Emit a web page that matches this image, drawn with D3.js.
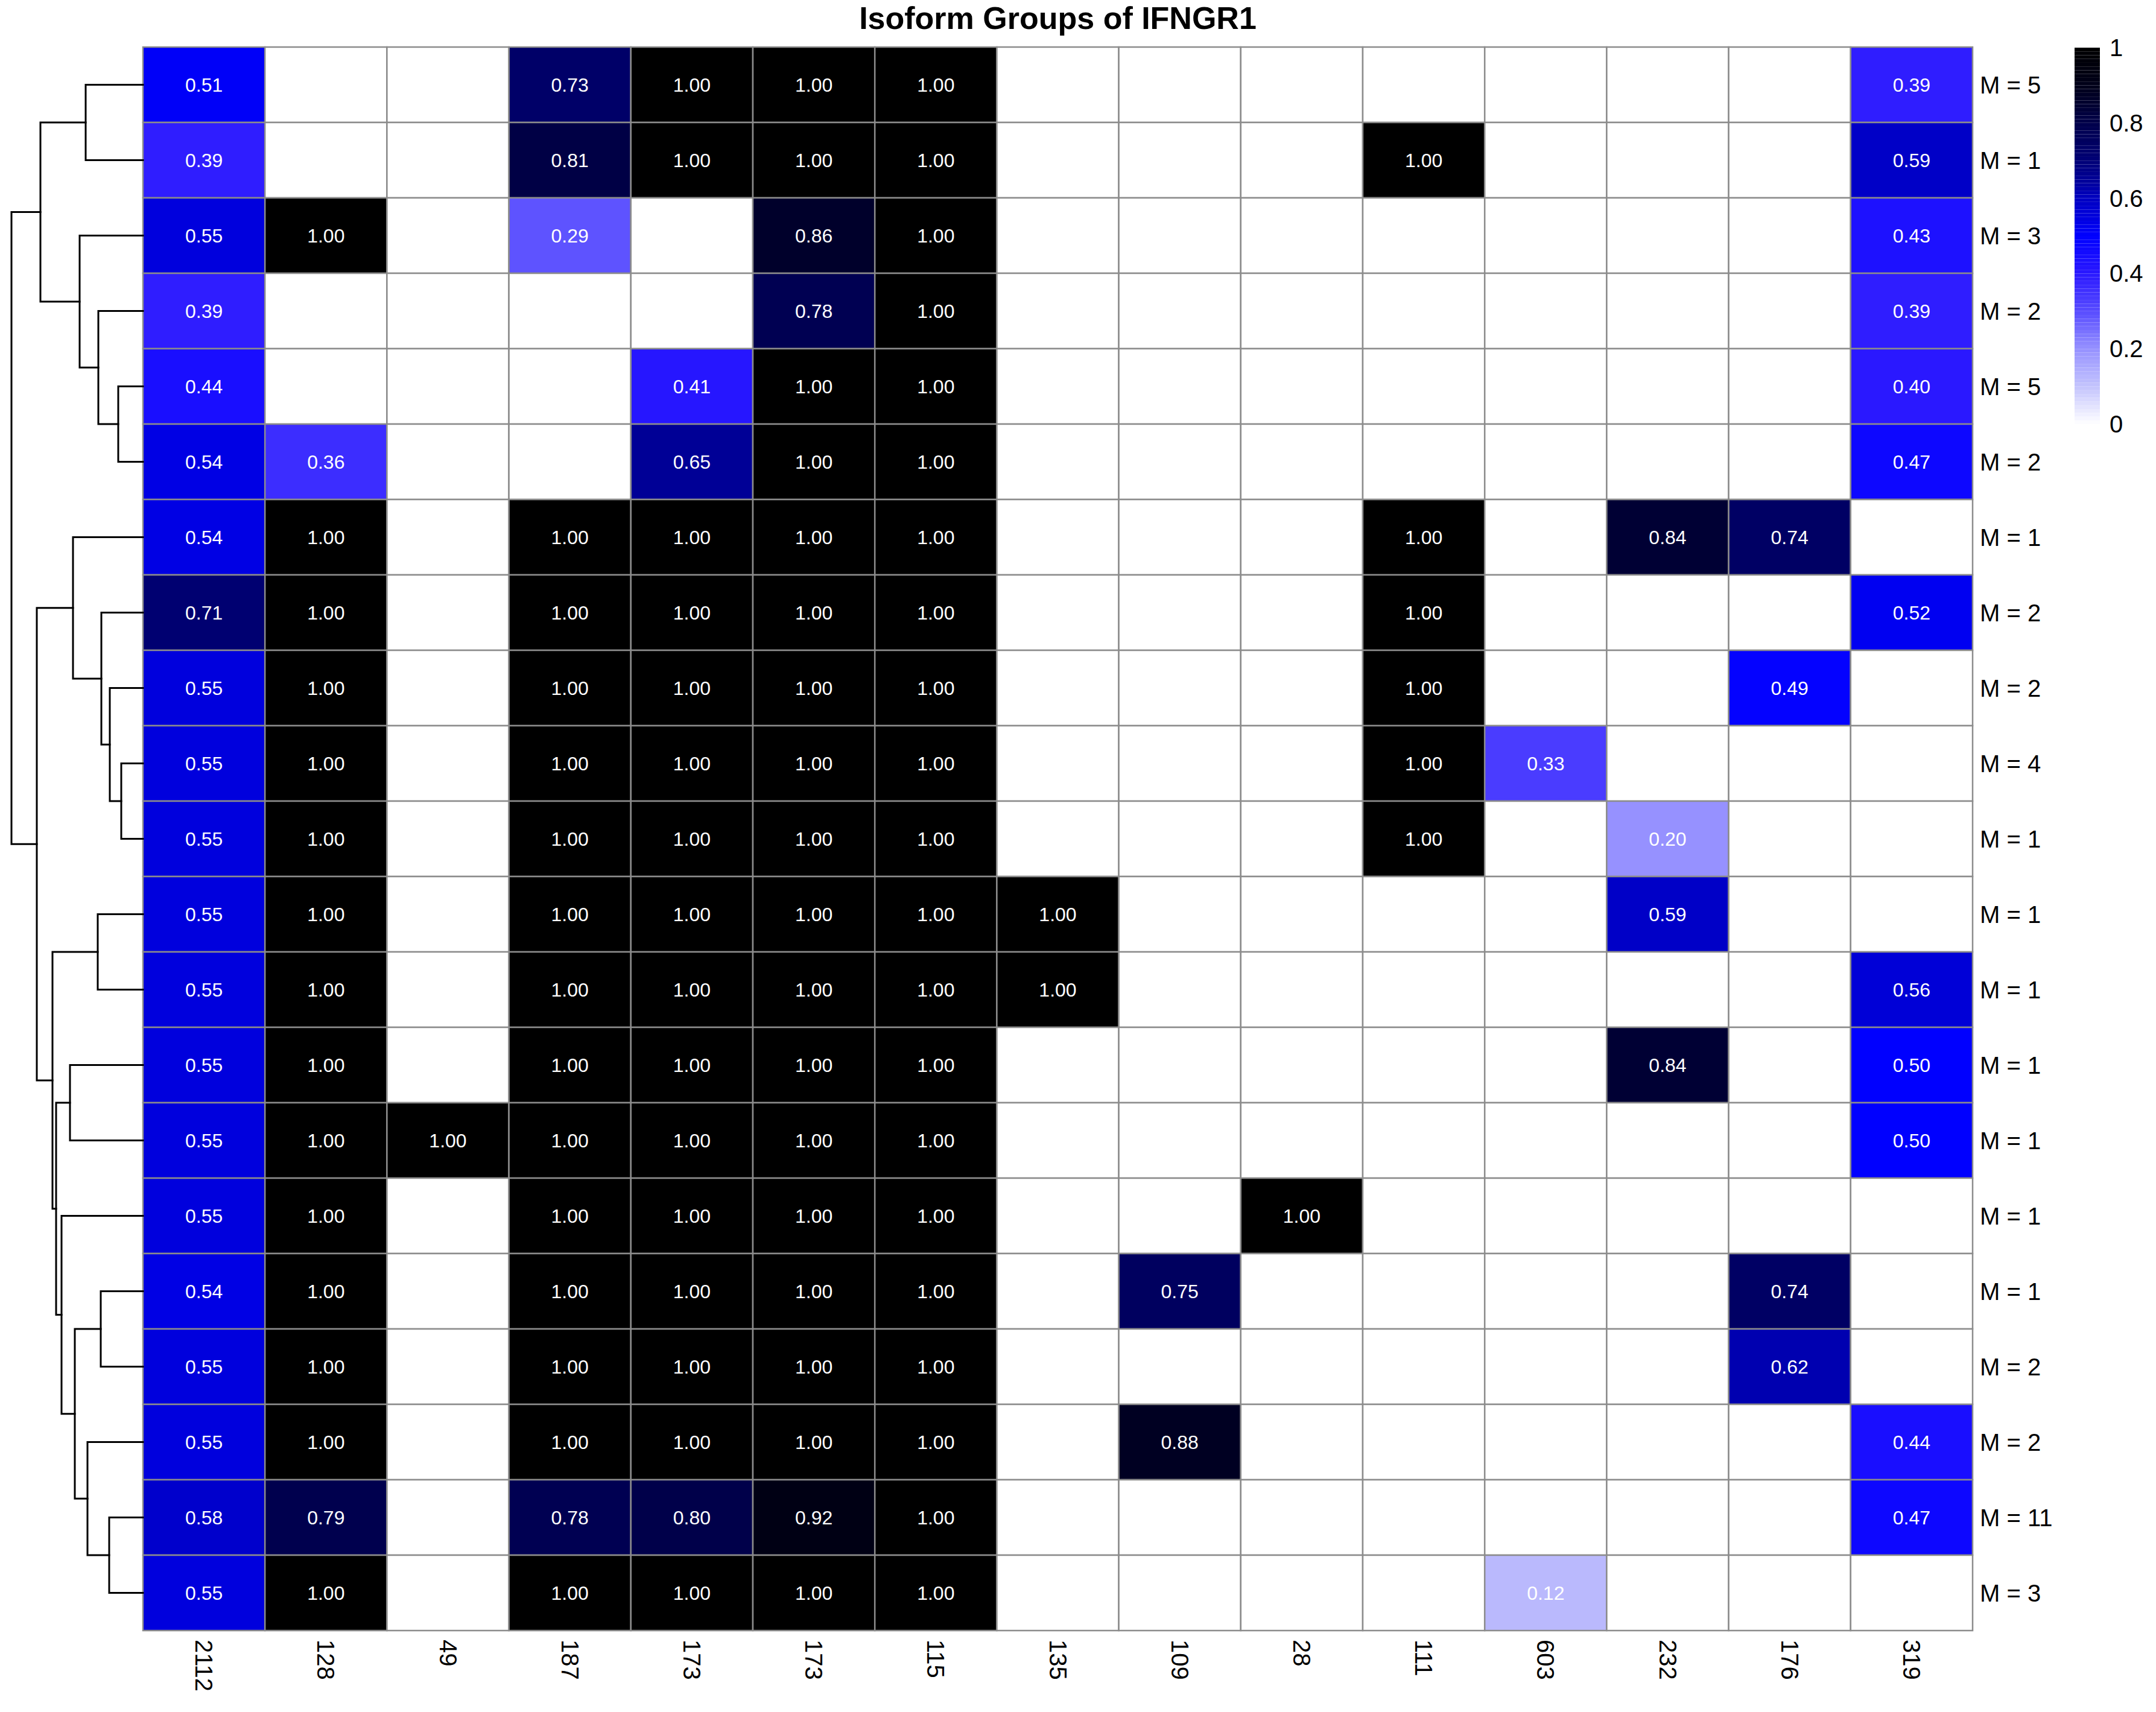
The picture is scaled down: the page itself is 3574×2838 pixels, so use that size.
<!DOCTYPE html>
<html>
<head>
<meta charset="utf-8">
<script src="https://cdn.jsdelivr.net/npm/d3@7"></script>
<style>
  html, body { margin: 0; padding: 0; background: #ffffff; }
  svg { display: block; }
</style>
</head>
<body>
<svg id="chart" width="3574" height="2838"></svg>
<script>
// ---------------- data ----------------
const chartTitle = "Isoform Groups of IFNGR1";
const colLabels = ["2112","128","49","187","173","173","115","135","109","28","111","603","232","176","319"];
const rowLabels = ["M = 5","M = 1","M = 3","M = 2","M = 5","M = 2","M = 1","M = 2","M = 2","M = 4",
                   "M = 1","M = 1","M = 1","M = 1","M = 1","M = 1","M = 1","M = 2","M = 2","M = 11","M = 3"];
// rows top to bottom, columns left to right (0 = empty cell)
const cellValues = [
  [0.51,0,0,0.73,1,1,1,0,0,0,0,0,0,0,0.39],
  [0.39,0,0,0.81,1,1,1,0,0,0,1,0,0,0,0.59],
  [0.55,1,0,0.29,0,0.86,1,0,0,0,0,0,0,0,0.43],
  [0.39,0,0,0,0,0.78,1,0,0,0,0,0,0,0,0.39],
  [0.44,0,0,0,0.41,1,1,0,0,0,0,0,0,0,0.40],
  [0.54,0.36,0,0,0.65,1,1,0,0,0,0,0,0,0,0.47],
  [0.54,1,0,1,1,1,1,0,0,0,1,0,0.84,0.74,0],
  [0.71,1,0,1,1,1,1,0,0,0,1,0,0,0,0.52],
  [0.55,1,0,1,1,1,1,0,0,0,1,0,0,0.49,0],
  [0.55,1,0,1,1,1,1,0,0,0,1,0.33,0,0,0],
  [0.55,1,0,1,1,1,1,0,0,0,1,0,0.20,0,0],
  [0.55,1,0,1,1,1,1,1,0,0,0,0,0.59,0,0],
  [0.55,1,0,1,1,1,1,1,0,0,0,0,0,0,0.56],
  [0.55,1,0,1,1,1,1,0,0,0,0,0,0.84,0,0.50],
  [0.55,1,1,1,1,1,1,0,0,0,0,0,0,0,0.50],
  [0.55,1,0,1,1,1,1,0,0,1,0,0,0,0,0],
  [0.54,1,0,1,1,1,1,0,0.75,0,0,0,0,0.74,0],
  [0.55,1,0,1,1,1,1,0,0,0,0,0,0,0.62,0],
  [0.55,1,0,1,1,1,1,0,0.88,0,0,0,0,0,0.44],
  [0.58,0.79,0,0.78,0.80,0.92,1,0,0,0,0,0,0,0,0.47],
  [0.55,1,0,1,1,1,1,0,0,0,0,0.12,0,0,0]
];
const legendTicks = [0, 0.2, 0.4, 0.6, 0.8, 1];
const legendTickLabels = ["0","0.2","0.4","0.6","0.8","1"];
// colour ramp stops (white -> blue -> black)
const colorStops = [0, 0.1, 0.2, 0.3, 0.4, 0.5, 0.55, 0.6, 0.65, 0.7, 0.75, 0.8, 0.85, 0.9, 1];
const colorRange = ["#ffffff","#c3c3fd","#9691ff","#584cff","#2a18ff","#0000ff","#0000dd","#0000c1",
                    "#000096","#000076","#00005f","#00004a","#00002f","#000019","#000000"];
// row dendrogram: merge heights (h) and leaves (row index)
const rowDendrogram = {h:2.18, children:[
  {h:1.70, children:[
    {h:0.95, children:[{leaf:0},{leaf:1}]},
    {h:1.05, children:[
      {leaf:2},
      {h:0.74, children:[{leaf:3},{h:0.41, children:[{leaf:4},{leaf:5}]}]}
    ]}
  ]},
  {h:1.76, children:[
    {h:1.16, children:[
      {leaf:6},
      {h:0.69, children:[
        {leaf:7},
        {h:0.55, children:[{leaf:8},{h:0.36, children:[{leaf:9},{leaf:10}]}]}
      ]}
    ]},
    {h:1.50, children:[
      {h:0.75, children:[{leaf:11},{leaf:12}]},
      {h:1.44, children:[
        {h:1.21, children:[{leaf:13},{leaf:14}]},
        {h:1.35, children:[
          {leaf:15},
          {h:1.13, children:[
            {h:0.70, children:[{leaf:16},{leaf:17}]},
            {h:0.92, children:[{leaf:18},{h:0.56, children:[{leaf:19},{leaf:20}]}]}
          ]}
        ]}
      ]}
    ]}
  ]}
]};

// ---------------- layout ----------------
const W = 3574, H = 2838;
const gridLeft = 237, gridRight = 3270, gridTop = 78, gridBottom = 2703;
const FONT = "'Liberation Sans', Arial, Helvetica, sans-serif";

const svg = d3.select("#chart");
svg.append("rect").attr("width", W).attr("height", H).attr("fill", "#ffffff");

const x = d3.scaleBand().domain(d3.range(colLabels.length)).range([gridLeft, gridRight]);
const y = d3.scaleBand().domain(d3.range(rowLabels.length)).range([gridTop, gridBottom]);
const color = d3.scaleLinear().domain(colorStops).range(colorRange).interpolate(d3.interpolateRgb).clamp(true);

// title
svg.append("text")
  .attr("x", (gridLeft + gridRight) / 2).attr("y", 48)
  .attr("text-anchor", "middle")
  .attr("font-family", FONT).attr("font-weight", "bold").attr("font-size", 52)
  .attr("fill", "#000").text(chartTitle);

// cells
const cells = [];
cellValues.forEach((row, r) => row.forEach((v, c) => cells.push({r, c, v})));

const gCells = svg.append("g");
gCells.selectAll("rect").data(cells).join("rect")
  .attr("x", d => x(d.c)).attr("y", d => y(d.r))
  .attr("width", x.bandwidth()).attr("height", y.bandwidth())
  .attr("fill", d => color(d.v))
  .attr("stroke", "#8c8c8c").attr("stroke-width", 2.5);

gCells.selectAll("text").data(cells.filter(d => d.v > 0)).join("text")
  .attr("x", d => x(d.c) + x.bandwidth() / 2)
  .attr("y", d => y(d.r) + y.bandwidth() / 2)
  .attr("text-anchor", "middle").attr("dominant-baseline", "central")
  .attr("font-family", FONT).attr("font-size", 32).attr("fill", "#ffffff")
  .text(d => d3.format(".2f")(d.v));

// row labels
svg.append("g").selectAll("text").data(rowLabels).join("text")
  .attr("x", gridRight + 12)
  .attr("y", (d, i) => y(i) + y.bandwidth() / 2)
  .attr("dominant-baseline", "central")
  .attr("font-family", FONT).attr("font-size", 40).attr("fill", "#000")
  .text(d => d);

// column labels (rotated, reading downward)
svg.append("g").selectAll("text").data(colLabels).join("text")
  .attr("transform", (d, i) => `translate(${x(i) + x.bandwidth() / 2},${gridBottom + 15}) rotate(90)`)
  .attr("dominant-baseline", "central")
  .attr("font-family", FONT).attr("font-size", 40).attr("fill", "#000")
  .text(d => d);

// dendrogram
const hx = d3.scaleLinear().domain([0, rowDendrogram.h]).range([gridLeft, 19]);
const gDen = svg.append("g").attr("fill", "none").attr("stroke", "#000").attr("stroke-width", 3)
  .attr("stroke-linecap", "square");
function layout(node) {
  if (node.leaf !== undefined) {
    node.px = gridLeft;
    node.py = y(node.leaf) + y.bandwidth() / 2;
  } else {
    node.children.forEach(layout);
    node.px = hx(node.h);
    node.py = d3.mean(node.children, c => c.py);
  }
}
layout(rowDendrogram);
function drawNode(node) {
  if (node.leaf !== undefined) return;
  const [a, b] = node.children;
  gDen.append("path").attr("d",
    `M${a.px},${a.py}H${node.px}V${b.py}H${b.px}`);
  node.children.forEach(drawNode);
}
drawNode(rowDendrogram);

// legend
const legTop = 79, legBottom = 703, legX = 3439, legW = 42;
const ly = d3.scaleLinear().domain([0, 1]).range([legBottom, legTop]);
const nSteps = 100;
const steps = d3.range(nSteps).map(i => i / nSteps);
svg.append("g").selectAll("rect").data(steps).join("rect")
  .attr("x", legX).attr("width", legW)
  .attr("y", d => ly(d + 1 / nSteps))
  .attr("height", (legBottom - legTop) / nSteps)
  .attr("fill", d => color(d + 0.5 / nSteps));
svg.append("g").selectAll("text").data(legendTicks).join("text")
  .attr("x", legX + legW + 16)
  .attr("y", d => ly(d))
  .attr("dominant-baseline", "central")
  .attr("font-family", FONT).attr("font-size", 40).attr("fill", "#000")
  .text((d, i) => legendTickLabels[i]);
</script>
</body>
</html>
